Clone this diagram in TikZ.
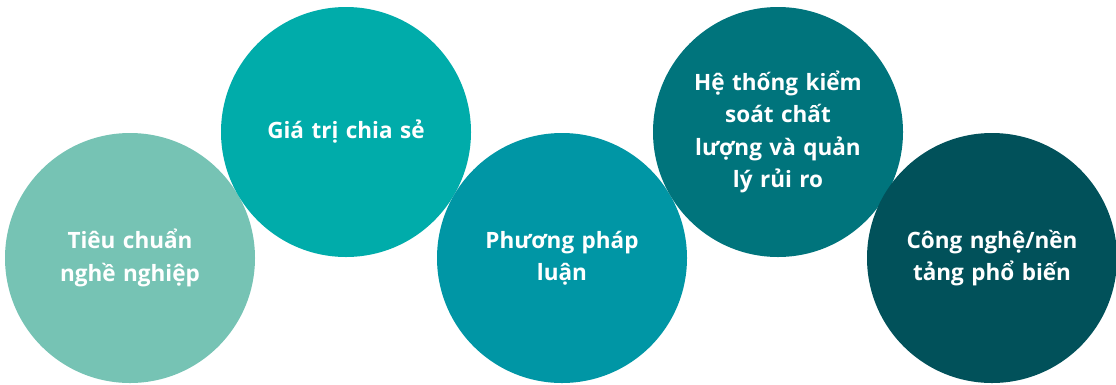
\documentclass[tikz,border=0pt]{standalone}
\usepackage{fontspec}
\setmainfont{Open Sans}[UprightFont=* Bold]
\definecolor{cA}{HTML}{76C3B4}
\definecolor{cB}{HTML}{00ACAA}
\definecolor{cC}{HTML}{0096A5}
\definecolor{cD}{HTML}{00747C}
\definecolor{cE}{HTML}{01515A}
\begin{document}
\begin{tikzpicture}[x=1pt,y=-1pt,
  bubble/.style={circle,minimum size=250pt,inner sep=0pt,text=white,align=center,
    font=\fontsize{22.5}{32.5}\selectfont,text width=190pt}]
\useasboundingbox (0,0) rectangle (1116,384);
\node[bubble,fill=cA] (n1) at (130,258) {Tiêu chuẩn\\nghề nghiệp};
\node[bubble,fill=cB] (n2) at (346,132) {Giá trị chia sẻ};
\node[bubble,fill=cC] (n3) at (562,258) {Phương pháp\\luận};
\node[bubble,fill=cD] (n4) at (778,132) {Hệ thống kiểm\\soát chất\\lượng và quản\\lý rủi ro};
\node[bubble,fill=cE] (n5) at (992,258) {Công nghệ/nền\\tảng phổ biến};
\end{tikzpicture}
\end{document}
